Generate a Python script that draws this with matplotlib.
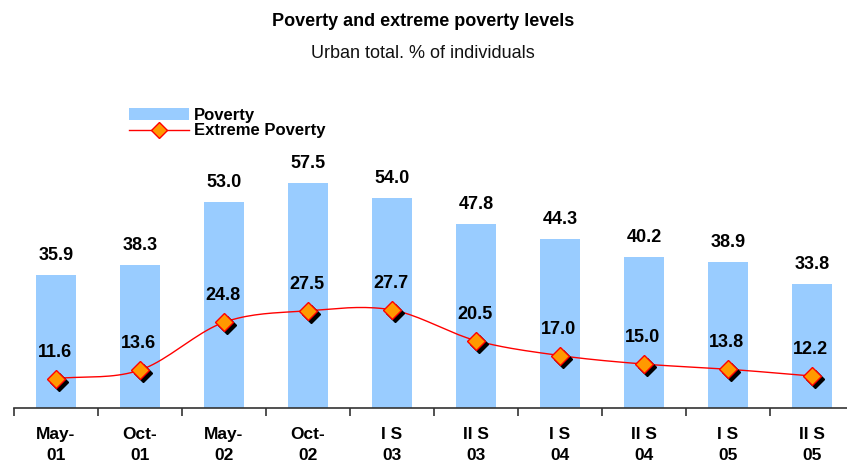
import numpy as np
import matplotlib
matplotlib.use("Agg")
from matplotlib import pyplot as plt
from matplotlib import transforms
from matplotlib.patches import Patch
from matplotlib.lines import Line2D

# data
periods = ["May-\n01", "Oct-\n01", "May-\n02", "Oct-\n02", "I S\n03",
           "II S\n03", "I S\n04", "II S\n04", "I S\n05", "II S\n05"]
poverty = [35.9, 38.3, 53.0, 57.5, 54.0, 47.8, 44.3, 40.2, 38.9, 33.8]
extreme = [11.6, 13.6, 24.8, 27.5, 27.7, 20.5, 17.0, 15.0, 13.8, 12.2]

plt.rcParams['font.family'] = ['Liberation Sans', 'DejaVu Sans']


def smooth(xs, ys, n=20):
    # catmull-rom curve through the points (like excel's smoothed line)
    xs = np.asarray(xs, float)
    ys = np.asarray(ys, float)
    px = np.concatenate([[2 * xs[0] - xs[1]], xs, [2 * xs[-1] - xs[-2]]])
    py = np.concatenate([[2 * ys[0] - ys[1]], ys, [2 * ys[-1] - ys[-2]]])
    outx, outy = [], []
    t = np.linspace(0, 1, n)
    for i in range(1, len(px) - 2):
        for p, out in ((px, outx), (py, outy)):
            p0, p1, p2, p3 = p[i - 1], p[i], p[i + 1], p[i + 2]
            out.extend(0.5 * (2 * p1 + (-p0 + p2) * t
                              + (2 * p0 - 5 * p1 + 4 * p2 - p3) * t ** 2
                              + (-p0 + 3 * p1 - 3 * p2 + p3) * t ** 3))
    return np.array(outx), np.array(outy)


W, H = 847, 468
fig = plt.figure(figsize=(W / 100, H / 100), dpi=100)
ax = fig.add_axes([14 / W, (H - 408) / H, 840 / W, 275 / H])

x = np.arange(len(periods))
ax.bar(x, poverty, width=0.465, color="#99ccff", zorder=1)

sx, sy = smooth(x, extreme)
ax.plot(sx, sy, color="#ff0000", lw=1.0, zorder=2)

shadow = transforms.offset_copy(ax.transData, fig=fig, x=3, y=-3, units="dots")
ax.plot(x, extreme, ls="none", marker="D", ms=9, color="black", transform=shadow, zorder=3)
ax.plot(x, extreme, ls="none", marker="D", ms=9, markerfacecolor="#ff9900",
        markeredgecolor="#ff0000", markeredgewidth=1.0, zorder=4)

for xi, v in zip(x, poverty):
    ax.annotate(f"{v:.1f}", (xi, v), xytext=(0, 8), textcoords="offset points",
                ha="center", va="bottom", fontsize=13, fontweight="bold")
for xi, v in zip(x, extreme):
    ax.annotate(f"{v:.1f}", (xi, v), xytext=(-1, 13), textcoords="offset points",
                ha="center", va="bottom", fontsize=13, fontweight="bold")

ax.set_xlim(-0.5, len(periods) - 0.5)
ax.set_ylim(4.7, 69.2)
ax.set_xticks(np.arange(-0.5, len(periods), 1))
ax.set_xticklabels([])
ax.set_xticks(x, minor=True)
ax.set_xticklabels(periods, minor=True, fontsize=12.5, fontweight="bold", linespacing=1.45)
ax.tick_params(axis="x", which="major", length=6, width=1.2, direction="out", color="#333333")
ax.tick_params(axis="x", which="minor", length=0, pad=14)
ax.tick_params(axis="y", left=False, labelleft=False)
for s in ["top", "right", "left"]:
    ax.spines[s].set_visible(False)
ax.spines["bottom"].set_linewidth(1.2)
ax.spines["bottom"].set_color("#333333")

fig.text(423 / W, 1 - 22 / H, "Poverty and extreme poverty levels", ha="center", va="center",
         fontsize=13, fontweight="bold")
fig.text(423 / W, 1 - 54 / H, "Urban total. % of individuals", ha="center", va="center",
         fontsize=13, color="#111111")

handles = [Patch(facecolor="#99ccff", edgecolor="none"),
           Line2D([], [], color="#ff0000", lw=1.0, marker="D", ms=8,
                  markerfacecolor="#ff9900", markeredgecolor="#ff0000")]
fig.legend(handles, ["Poverty", "Extreme Poverty"], loc="upper left",
           bbox_to_anchor=(122 / W, 1 - 101 / H), frameon=False,
           prop={"size": 12, "weight": "bold"}, handlelength=3.6, handletextpad=0.3,
           labelspacing=0.05, borderaxespad=0)

fig.savefig("out.png", dpi=100)
